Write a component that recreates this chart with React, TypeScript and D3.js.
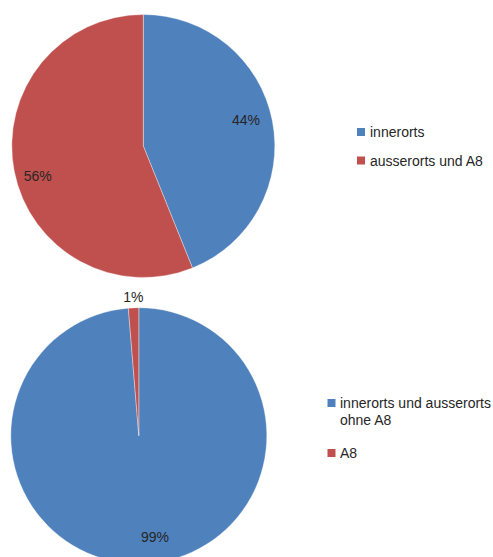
import React from "react";
import * as d3 from "d3";

const topCategories = ["innerorts", "ausserorts und A8"];
const topValues = [43.9, 56.1];
const topLabels = ["44%", "56%"];

const bottomCategories = ["innerorts und ausserorts ohne A8", "A8"];
const bottomValues = [98.7, 1.3];
const bottomLabels = ["99%", "1%"];

const colors = ["#4F81BD", "#C0504D"];
const FONT = "'Liberation Sans', Arial, sans-serif";

type PieProps = {
  cx: number;
  cy: number;
  r: number;
  values: number[];
  labels: string[];
  labelPos: [number, number][];
};

function Pie({ cx, cy, r, values, labels, labelPos }: PieProps) {
  const pie = d3.pie<number>().sort(null).value((d) => d)(values);
  const arc = d3.arc<d3.PieArcDatum<number>>().innerRadius(0).outerRadius(r);
  return (
    <g transform={`translate(${cx},${cy})`}>
      {pie.map((p, i) => (
        <path key={i} d={arc(p) || ""} fill={colors[i]} stroke="#ffffff" strokeWidth={0.6} strokeOpacity={0.6} />
      ))}
      {pie.map((p, i) => (
        <text
          key={"l" + i}
          x={labelPos[i][0]}
          y={labelPos[i][1]}
          textAnchor="middle"
          dominantBaseline="central"
          fontFamily={FONT}
          fontSize={14}
          fill="#262626"
        >
          {labels[i]}
        </text>
      ))}
    </g>
  );
}

export default function App() {
  const W = 493;
  const H = 557;
  // label offsets relative to each pie centre (best-fit placement)
  const topPos: [number, number][] = [[102.7, -26], [-105.6, 29.7]];
  const botPos: [number, number][] = [[16.2, 101], [-5.5, -139]];

  return (
    <svg width={W} height={H} style={{ position: "absolute", left: 0, top: 0 }}>
      <rect width={W} height={H} fill="#ffffff" />
      <Pie cx={143.3} cy={146} r={131.5} values={topValues} labels={topLabels} labelPos={topPos} />
      <Pie cx={138.8} cy={435.7} r={128} values={bottomValues} labels={bottomLabels} labelPos={botPos} />

      {/* top legend */}
      <g fontFamily={FONT} fontSize={14} fill="#262626">
        <rect x={357} y={128} width={8} height={8} fill={colors[0]} />
        <text x={370} y={137}>{topCategories[0]}</text>
        <rect x={357} y={156.5} width={8} height={8} fill={colors[1]} />
        <text x={370} y={165.5}>{topCategories[1]}</text>
      </g>

      {/* bottom legend */}
      <g fontFamily={FONT} fontSize={14} fill="#262626">
        <rect x={327.5} y={399} width={8} height={8} fill={colors[0]} />
        <text x={340} y={408}>innerorts und ausserorts</text>
        <text x={340} y={425}>ohne A8</text>
        <rect x={327.5} y={449} width={8} height={8} fill={colors[1]} />
        <text x={340} y={458}>{bottomCategories[1]}</text>
      </g>
    </svg>
  );
}
